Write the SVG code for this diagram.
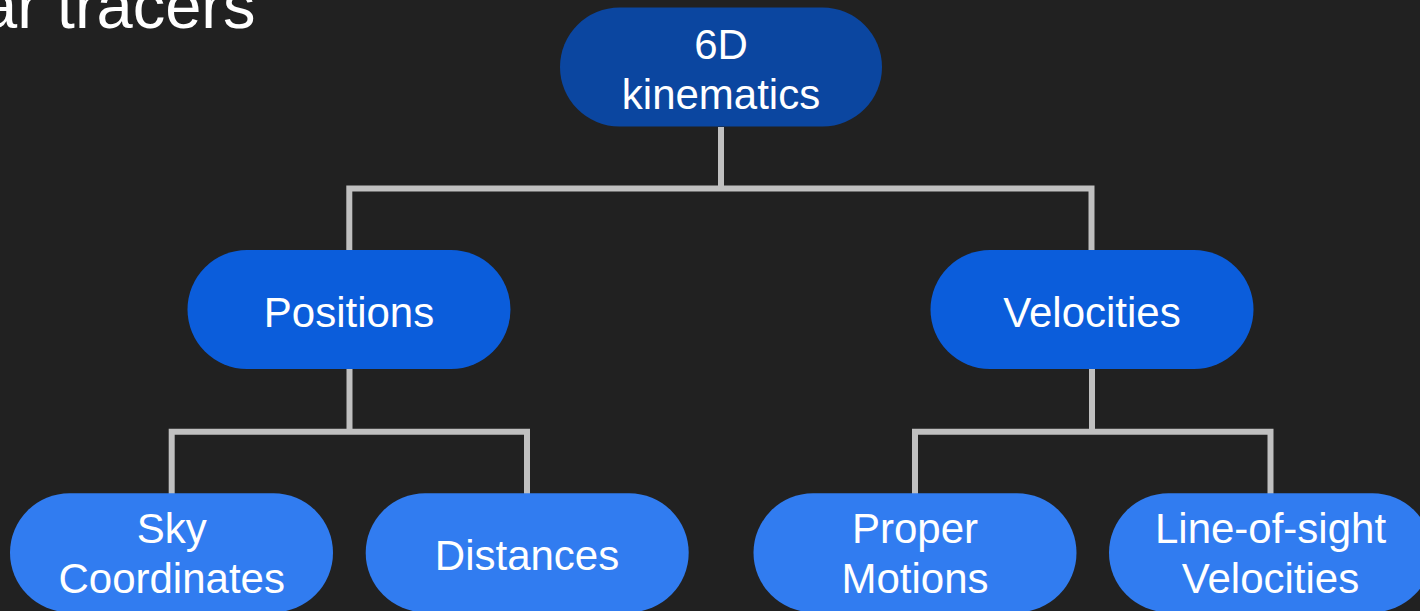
<svg xmlns="http://www.w3.org/2000/svg" width="1420" height="611" viewBox="0 0 1420 611">
<style>
.bg{fill:#212121}
.n0{fill:#0B46A0}
.n1{fill:#0B5DDB}
.n2{fill:#317CF0}
.t{font-family:"Liberation Sans",Arial,sans-serif;font-size:42px;fill:#FFFFFF;text-anchor:middle}
.title{font-family:"Liberation Sans",Arial,sans-serif;font-size:65px;fill:#FFFFFF}
.c{fill:none;stroke:#C0C0C0;stroke-width:6;stroke-linejoin:miter;stroke-linecap:butt}
</style>
<rect class="bg" x="0" y="0" width="1420" height="611"/>
<text class="title" x="-19" y="28">ar tracers</text>
<g id="connectors">
<path class="c" d="M721,127 V188.5 M349.3,251 V188.5 H1091.5 V251"/>
<path class="c" d="M349.5,369 V431.7 M171.7,494 V431.7 H527 V494"/>
<path class="c" d="M1092,369 V431.7 M915,494 V431.7 H1270.5 V494"/>
</g>
<g id="node-6d">
<rect class="n0" x="560" y="7.5" width="322" height="119" rx="59.5"/>
<text class="t" x="721" y="59">6D</text>
<text class="t" x="721" y="109">kinematics</text>
</g>
<g id="node-positions">
<rect class="n1" x="187.5" y="250" width="323" height="119" rx="59.5"/>
<text class="t" x="349" y="327">Positions</text>
</g>
<g id="node-velocities">
<rect class="n1" x="930.5" y="250" width="323" height="119" rx="59.5"/>
<text class="t" x="1092" y="327">Velocities</text>
</g>
<g id="node-sky">
<rect class="n2" x="10" y="493.3" width="323" height="119" rx="59.5"/>
<text class="t" x="171.7" y="543">Sky</text>
<text class="t" x="171.7" y="593">Coordinates</text>
</g>
<g id="node-distances">
<rect class="n2" x="365.7" y="493.3" width="323" height="119" rx="59.5"/>
<text class="t" x="527" y="570">Distances</text>
</g>
<g id="node-proper">
<rect class="n2" x="753.5" y="493.3" width="323" height="119" rx="59.5"/>
<text class="t" x="915" y="543">Proper</text>
<text class="t" x="915" y="593">Motions</text>
</g>
<g id="node-los">
<rect class="n2" x="1109" y="493.3" width="323" height="119" rx="59.5"/>
<text class="t" x="1270.5" y="543">Line-of-sight</text>
<text class="t" x="1270.5" y="593">Velocities</text>
</g>
</svg>
